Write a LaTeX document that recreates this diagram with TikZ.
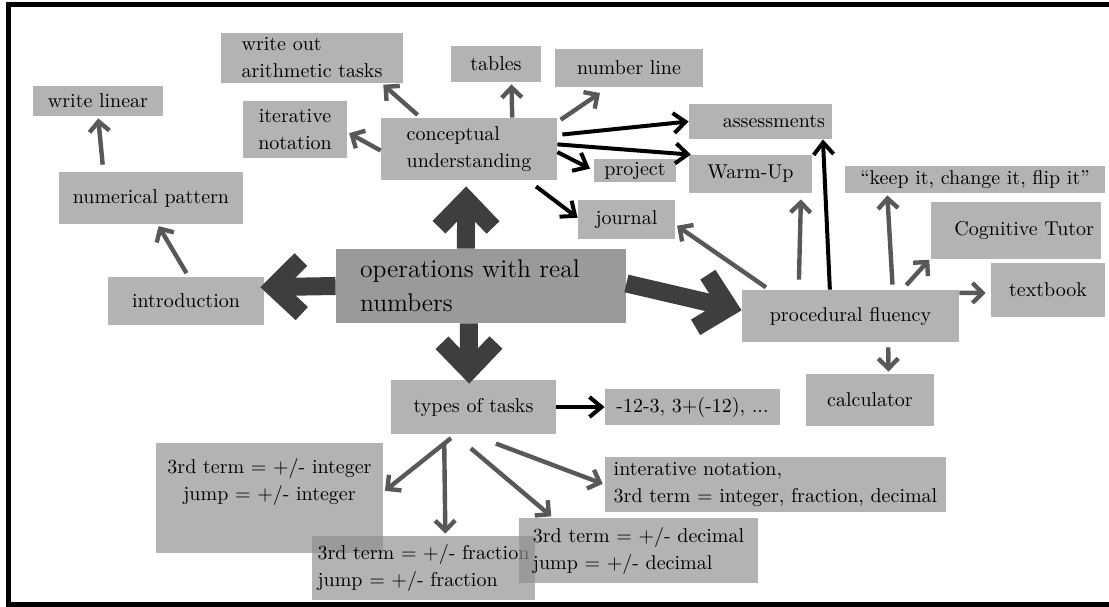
\documentclass[tikz,border=0pt]{standalone}
\usetikzlibrary{arrows.meta}
\definecolor{boxgray}{RGB}{142,142,142}
\definecolor{opsgray}{RGB}{154,154,154}
\definecolor{arrgray}{RGB}{88,88,88}
\definecolor{biggray}{RGB}{62,62,62}
\begin{document}
\begin{tikzpicture}[x=0.5pt,y=-0.5pt,
  box/.style={fill=boxgray,fill opacity=0.67,text opacity=1,inner sep=0pt,align=left,font=\fontsize{10}{13.5}\selectfont},
  grayarr/.style={draw=arrgray,line width=2.2pt,-{Straight Barb[length=5pt,width=10pt,sharp]},shorten <=2pt,shorten >=1pt},
  blackarr/.style={draw=black,line width=2pt,-{Straight Barb[length=6pt,width=10pt,sharp]}},
  bigarr/.style={draw=biggray,line width=9pt,-{Straight Barb[length=14pt,width=27pt,sharp]}}]
\useasboundingbox (0,0) rectangle (1109,606);
\draw [line width=2.5pt] (1109,4.5) -- (8.5,4.5) -- (8.5,604.5) -- (1109,604.5);
\node [box,fill=opsgray,fill opacity=1,text width=121pt,inner xsep=12pt,minimum height=37pt,font=\fontsize{12.8}{17}\selectfont] (v0) at (481,286) {operations with real\\numbers};
\node [box,minimum width=88pt,minimum height=31pt] (v1) at (469,149) {conceptual\\understanding};
\node [box,minimum width=78pt,minimum height=24pt] (v2) at (186,301) {introduction};
\node [box,minimum width=92pt,minimum height=26pt] (v3) at (151,198) {numerical pattern};
\node [box,minimum width=65pt,minimum height=15pt] (v4) at (98,101) {write linear};
\node [box,align=center,minimum width=52pt,minimum height=28.5pt] (v5) at (295,129.5) {iterative\\notation};
\node [box,minimum width=91pt,minimum height=25pt] (v6) at (312,58) {write out\\arithmetic tasks};
\node [box,minimum width=45pt,minimum height=18pt] (v7) at (496,64) {tables};
\node [box,minimum width=74pt,minimum height=19pt] (v8) at (629,68) {number line};
\node [box,align=right,text width=64.5pt,inner xsep=3.5pt,minimum height=17.5pt] (v9) at (760.5,121.5) {assessments};
\node [box,minimum width=61.5pt,minimum height=19pt] (v10) at (750.5,174) {Warm-Up};
\node [box,minimum width=41pt,minimum height=11.5pt] (v11) at (635,170.5) {project};
\node [box,minimum width=48.5pt,minimum height=19.5pt] (v12) at (626.5,219.5) {journal};
\node [box,minimum width=108.5pt,minimum height=26pt] (v13) at (850.5,316) {procedural fluency};
\node [box,minimum width=130pt,minimum height=13.5pt] (v14) at (975,179.5) {“keep it, change it, flip it”};
\node [box,align=right,text width=78pt,inner xsep=3.5pt,minimum height=28.5pt] (v15) at (1016,230.5) {Cognitive Tutor};
\node [box,minimum width=57pt,minimum height=27pt] (v16) at (1048,290) {textbook};
\node [box,minimum width=64pt,minimum height=26pt] (v17) at (870,400) {calculator};
\node [box,minimum width=82.5pt,minimum height=27pt] (v18) at (473.5,407) {types of tasks};
\node [box,minimum width=87.5pt,minimum height=18pt] (v19) at (692.5,407) {-12-3, 3+(-12), ...};
\node [box,align=center,minimum width=113.5pt,text height=28.5pt,text depth=26.5pt] (v20) at (269.5,498) {3rd term = +/- integer\\jump = +/- integer};
\node [box,minimum width=111.5pt,minimum height=32pt] (v21) at (423.5,568) {3rd term = +/- fraction\\jump = +/- fraction};
\node [box,minimum width=119.5pt,minimum height=32.5pt] (v22) at (638.5,550.5) {3rd term = +/- decimal\\jump = +/- decimal};
\node [box,minimum width=170.5pt,minimum height=27.5pt] (v23) at (775.5,484.5) {interative notation,\\3rd term = integer, fraction, decimal};
% thick arrows out of the centre
\draw [bigarr,shorten >=3pt] (v0.112) -- (v1.-95);
\draw [bigarr,shorten >=-2pt] (v0.west) -- (v2.10);
\draw [bigarr,shorten >=-2pt] (v0.-108) -- (v18.99);
\draw [bigarr] (v0.1) -- (v13.177);
% conceptual understanding
\draw [grayarr] (v1.147) -- (v6.-20);
\draw [grayarr,shorten <=0pt] (v1.181) -- (v5.-3);
\draw [grayarr,shorten <=0pt] (v1.36) -- (v7.-50);
\draw [grayarr,shorten >=5pt] (v1.17) -- (v8.-137);
\draw [blackarr,shorten <=2.5pt] (v1.9) -- (v9.west);
\draw [blackarr] (v1.3) -- (v10.162);
\draw [blackarr,shorten >=2pt] (v1.-2) -- (v11.west);
\draw [blackarr,shorten <=5pt] (v1.-28) -- (v12.178);
% introduction
\draw [grayarr] (v2.84) -- (v3.-76);
\draw [grayarr,shorten <=3.5pt] (v3.151) -- (v4.south);
% procedural fluency
\draw [grayarr] (v13.162) -- (v12.-6);
\draw [grayarr,shorten <=5pt,shorten >=3pt] (v13.153) -- (v10.-21);
\draw [blackarr] (v13.128) -- (v9.-16);
\draw [grayarr,shorten <=2.5pt] (v13.32) -- (v14.-171);
\draw [grayarr,shorten <=3pt] (v13.27) -- (v15.-162);
\draw [grayarr,shorten <=0pt,shorten >=2.5pt] (v13.12) -- (v16.-177);
\draw [grayarr,shorten <=2.5pt] (v13.-35) -- (v17.55);
% types of tasks
\draw [blackarr] (v18) -- (v19);
\draw [grayarr,shorten <=3pt] (v18.-123) -- (v20.3);
\draw [grayarr,shorten <=4pt] (v18.-137) -- (v21.56);
\draw [grayarr,shorten <=10.8pt] (v18.-125) -- (v22.159);
\draw [grayarr,shorten <=13pt] (v18.-94) -- (v23.west);
\end{tikzpicture}
\end{document}
